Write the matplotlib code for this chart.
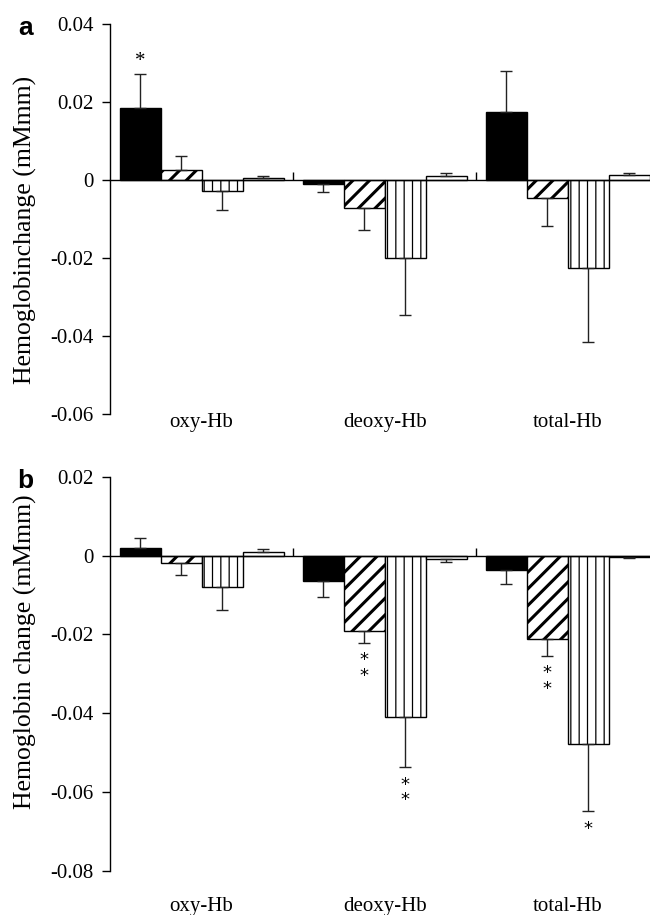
import numpy as np
import matplotlib
matplotlib.use("Agg")
import matplotlib.pyplot as plt

plt.rcParams['font.family'] = ['Liberation Serif', 'DejaVu Serif']

groups = ["oxy-Hb", "deoxy-Hb", "total-Hb"]
conditions = ["black", "diagonal", "vertical", "white"]

# panel a: mean and one-sided error per condition (rows) and group (columns)
a_vals = [[0.0184, -0.0010, 0.0174],
          [0.0026, -0.0073, -0.0046],
          [-0.0028, -0.0199, -0.0225],
          [0.0004, 0.0009, 0.0012]]
a_errs = [[0.0088, 0.0022, 0.0105],
          [0.0036, 0.0055, 0.0072],
          [0.0050, 0.0148, 0.0191],
          [0.0007, 0.0010, 0.0007]]
a_stars = [(0, 0, "*")]

# panel b
b_vals = [[0.0020, -0.0065, -0.0036],
          [-0.0020, -0.0191, -0.0211],
          [-0.0079, -0.0409, -0.0478],
          [0.0009, -0.0008, -0.0003]]
b_errs = [[0.0024, 0.0040, 0.0035],
          [0.0030, 0.0030, 0.0043],
          [0.0060, 0.0127, 0.0170],
          [0.0007, 0.0009, 0.0003]]
b_stars = [(1, 1, "**"), (2, 1, "**"), (1, 2, "**"), (2, 2, "*")]

a_ticks = [0.04, 0.02, 0, -0.02, -0.04, -0.06]
b_ticks = [0.02, 0, -0.02, -0.04, -0.06, -0.08]

styles = [dict(color="black", hatch=None, hlw=1.0),
          dict(color="white", hatch="//", hlw=2.2),
          dict(color="white", hatch="||", hlw=0.9),
          dict(color="white", hatch=None, hlw=1.0)]

fig = plt.figure(figsize=(6.5, 9.15), dpi=100)
ax_a = fig.add_axes([110 / 650, 1 - 414 / 915, 540 / 650, 390 / 915])
ax_b = fig.add_axes([110 / 650, 1 - 871 / 915, 540 / 650, 394.3 / 915])

width = 0.224
x = np.arange(len(groups))


def draw(ax, vals, errs, stars, ticks, ylabel, letter, letter_y, cat_y, ylab_y):
    for i, st in enumerate(styles):
        offs = (i - 1.5) * width
        v = np.array(vals[i])
        e = np.array(errs[i])
        with plt.rc_context({'hatch.linewidth': st['hlw'], 'hatch.color': 'black'}):
            bars = ax.bar(x + offs, v, width, color=st['color'], edgecolor="black",
                          linewidth=1.0, hatch=st['hatch'], zorder=2)
            for b in bars:
                if hasattr(b, "set_hatch_linewidth"):
                    b.set_hatch_linewidth(st['hlw'])
        up = np.where(v >= 0, e, 0)
        dn = np.where(v < 0, e, 0)
        ax.errorbar(x + offs, v, yerr=[dn, up], fmt="none", ecolor="#222222",
                    elinewidth=1.0, capsize=4.5, capthick=1.0, zorder=3)
    for (i, g, s) in stars:
        v = vals[i][g]
        e = errs[i][g]
        xs = g + (i - 1.5) * width
        if v >= 0:
            ax.text(xs, v + e + 0.0008, s, ha="center", va="bottom", fontsize=15)
        else:
            ax.text(xs, v - e - 0.0022, "\n".join(s), ha="center", va="top",
                    fontsize=13, linespacing=0.85, family="DejaVu Sans")

    ax.set_xlim(-0.5, 2.45)
    ax.set_ylim(ticks[-1], ticks[0])
    ax.set_yticks(ticks)
    ax.set_yticklabels(["0" if t == 0 else "%.2f" % t for t in ticks], fontsize=15)
    ax.tick_params(axis="y", direction="out", length=6, width=1.0, pad=6)
    for sp in ["top", "right"]:
        ax.spines[sp].set_visible(False)
    ax.spines["left"].set_linewidth(1.0)
    ax.spines["bottom"].set_position(("data", 0))
    ax.spines["bottom"].set_linewidth(1.0)
    ax.spines["bottom"].set_zorder(4)
    ax.set_xticks([0.5, 1.5])
    ax.set_xticklabels([])
    ax.tick_params(axis="x", direction="in", length=6, width=1.0)
    for g, name in enumerate(groups):
        ax.text(g, cat_y, name, transform=ax.get_xaxis_transform(),
                ha="center", va="center", fontsize=15)
    ax.set_ylabel(ylabel, fontsize=18.5)
    ax.yaxis.set_label_coords(-0.135, ylab_y)
    ax.text(-0.157, letter_y, letter, transform=ax.transAxes, ha="center", va="center",
            fontsize=19, fontweight="bold", family="Liberation Sans")


draw(ax_a, a_vals, a_errs, a_stars, a_ticks, "Hemoglobinchange (mMmm)", "a", 0.99, -0.023, 0.472)
draw(ax_b, b_vals, b_errs, b_stars, b_ticks, "Hemoglobin change (mMmm)", "b", 0.989, -0.089, 0.555)

fig.savefig("out.png", dpi=100)
